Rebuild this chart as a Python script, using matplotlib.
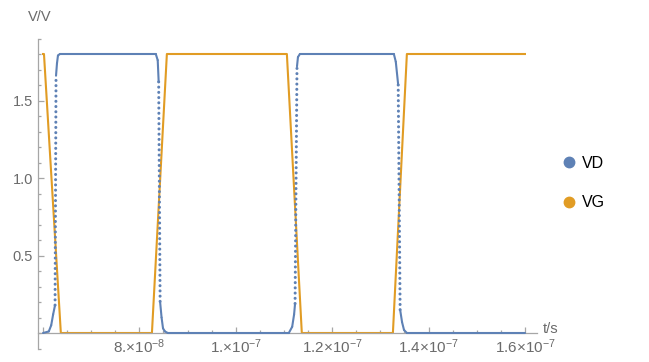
import numpy as np
import matplotlib.pyplot as plt
from matplotlib.lines import Line2D

plt.rcParams['font.family'] = ['Liberation Sans', 'DejaVu Sans']
plt.rcParams['mathtext.fontset'] = 'custom'
plt.rcParams['mathtext.rm'] = 'Liberation Sans'
plt.rcParams['mathtext.default'] = 'regular'

# gate voltage, time in units of 1e-8 s
t_vg = [6.0, 6.02, 6.37, 8.26, 8.57, 11.06, 11.37, 13.26, 13.55, 16.0]
v_vg = [1.8, 1.8, 0.0, 0.0, 1.8, 1.8, 0.0, 0.0, 1.8, 1.8]

# drain voltage
t_vd = [6.0, 6.12, 6.17, 6.21, 6.25, 6.27, 6.29, 6.31, 6.35,
        8.34, 8.38, 8.40, 8.43, 8.46, 8.49, 8.53, 8.59,
        11.10, 11.17, 11.21, 11.23, 11.27, 11.29, 11.33,
        13.28, 13.32, 13.37, 13.41, 13.45, 13.49, 13.55, 16.0]
v_vd = [0.0, 0.01, 0.05, 0.12, 0.18, 1.66, 1.74, 1.79, 1.8,
        1.8, 1.76, 1.62, 0.2, 0.1, 0.03, 0.01, 0.0,
        0.0, 0.04, 0.12, 0.19, 1.72, 1.78, 1.8,
        1.8, 1.75, 1.6, 0.15, 0.07, 0.02, 0.0, 0.0]

x_major = [6.0, 8.0, 10.0, 12.0, 14.0, 16.0]
x_labels = ['', '8.×10$^{-8}$', '1.×10$^{-7}$', '1.2×10$^{-7}$',
            '1.4×10$^{-7}$', '1.6×10$^{-7}$']
y_major = [0.5, 1.0, 1.5]
y_labels = ['0.5', '1.0', '1.5']

blue = '#5e81b5'
orange = '#e19c24'
axcol = '#a6a6a6'
txtcol = '#6b6b6b'

t_vg = np.array(t_vg) * 1e-8
t_vd = np.array(t_vd) * 1e-8
v_vd = np.array(v_vd)

fig = plt.figure(figsize=(6.49, 3.62), dpi=100)
ax = fig.add_axes([38 / 649, 13.5 / 362, 499 / 649, 310 / 362])
ax.set_xlim(5.896e-8, 16.25e-8)
ax.set_ylim(-0.1, 1.9)

ax.plot(t_vg, v_vg, color=orange, lw=1.5, zorder=2)

# very fast edges only have a few samples -> they show up as dots
for i in range(len(t_vd) - 1):
    dt = t_vd[i + 1] - t_vd[i]
    dv = v_vd[i + 1] - v_vd[i]
    if abs(dv) / dt > 2e9:
        ax.plot(t_vd[i:i + 2], v_vd[i:i + 2], color=blue, lw=2.2,
                ls=(0, (0.01, 1.7)), dash_capstyle='round', zorder=3)
    else:
        ax.plot(t_vd[i:i + 2], v_vd[i:i + 2], color=blue, lw=1.5,
                solid_capstyle='round', zorder=3)

for s in ['top', 'right']:
    ax.spines[s].set_visible(False)
ax.spines['bottom'].set_position(('data', 0))
for s in ['bottom', 'left']:
    ax.spines[s].set_color(axcol)
    ax.spines[s].set_linewidth(0.9)

ax.set_xticks(np.array(x_major) * 1e-8)
ax.set_xticklabels(x_labels)
ax.set_xticks(np.arange(6.0, 16.01, 0.5) * 1e-8, minor=True)
ax.set_yticks(y_major)
ax.set_yticklabels(y_labels)
ax.set_yticks(np.arange(-0.1, 1.91, 0.1), minor=True)
ax.tick_params(which='both', direction='in', color=axcol, width=0.9,
               labelcolor=txtcol, labelsize=10.5)
ax.tick_params(which='major', length=4.5)
ax.tick_params(which='minor', length=2.5)
ax.tick_params(axis='x', pad=3.5, labelsize=11)

fig.text(40 / 649, 1 - 17 / 362, 'V/V', ha='center', va='center',
         color=txtcol, fontsize=10.5)
fig.text(543 / 649, 1 - 329 / 362, 't/s', ha='left', va='center',
         color=txtcol, fontsize=10.5)

handles = [Line2D([], [], ls='', marker='o', ms=7.5, color=blue, label='VD'),
           Line2D([], [], ls='', marker='o', ms=7.5, color=orange, label='VG')]
fig.legend(handles=handles, loc='center left', bbox_to_anchor=(547 / 649, 1 - 183 / 362),
           frameon=False, fontsize=11.5, handletextpad=0.3, labelspacing=1.55,
           handlelength=1.0)

fig.savefig('out.png', dpi=100)
